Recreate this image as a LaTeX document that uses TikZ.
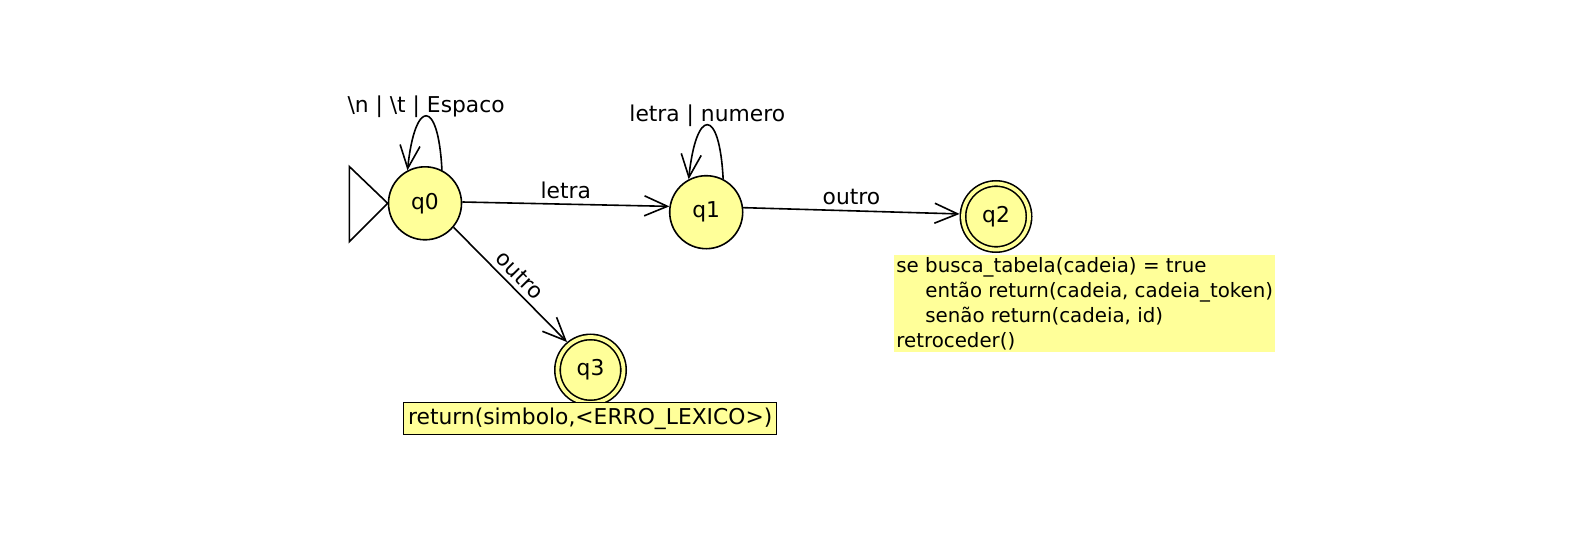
\documentclass[tikz,border=0pt]{standalone}
\usepackage{fontspec}
\setmainfont{DejaVu Sans}
\usetikzlibrary{positioning}
\usetikzlibrary{arrows.meta}
\definecolor{statefill}{RGB}{255,255,153}

\begin{document}
\begin{tikzpicture}[x=0.5pt, y=-0.5pt,
       every node/.style={font=\fontsize{10.9pt}{13pt}\selectfont},
       stnode/.style={circle, draw, line width=0.8pt, fill=statefill,
                      minimum size=36.5pt, inner sep=0pt},
       accnode/.style={stnode, minimum size=33pt, double=statefill,
                       double distance=1.9pt, outer sep=1.75pt},
       trans/.style={line width=0.8pt, -{Straight Barb[length=11.5pt, width=10pt]}},
       lbl/.style={inner sep=2.5pt},
       looplbl/.style={above, inner sep=0pt, yshift=-1pt}]
       \useasboundingbox (0,0) rectangle (1593,556);

              \node[stnode] (q0) at (425,203.3) {q0};
              \node[stnode] (q1) at (706.2,212.2) {q1};
              \node[accnode] (q2) at (996,216.5) {q2};
              \node[accnode] (q3) at (590.5,370) {q3};

              % initial state marker
              \draw[line width=0.8pt] (q0.west) -- ++(-19.15pt,18.35pt) -- ++(0pt,-37.5pt) -- cycle;

              \draw[trans] (q0.63) .. controls +(-1.85pt,36.5pt) and +(3.65pt,35.65pt) .. (q0.118)
                     node[pos=0.5, looplbl] {\textbackslash n | \textbackslash t | Espaco};
              \draw[trans] (q1.63) .. controls +(-1.85pt,36.5pt) and +(3.65pt,35.65pt) .. (q1.118)
                     node[pos=0.5, looplbl] {letra | numero};

              \draw[trans] (q0.2) -- node[above, lbl] {letra} (q1.171);
              \draw[trans] (q1.7) -- node[above, lbl] {outro} (q2.176);
              \draw[trans] (q0.-40) -- node[above, sloped, lbl] {outro} (q3.130);

              \node[fill=statefill, inner sep=1pt, anchor=north west, align=left,
                     font=\fontsize{9.9pt}{12.5pt}\selectfont] (note2) at (894,255)
                     {se busca\_tabela(cadeia) = true\\
                     \hspace*{14.5pt}então return(cadeia, cadeia\_token)\\
                     \hspace*{14.5pt}senão return(cadeia, id)\\
                     retroceder()};
              \node[draw, fill=statefill, line width=0.5pt, inner xsep=2.25pt,
                     inner ysep=2.6pt] (note3) at (590.2,418.5) {return(simbolo,<ERRO\_LEXICO>)};

       \end{tikzpicture}
\end{document}
